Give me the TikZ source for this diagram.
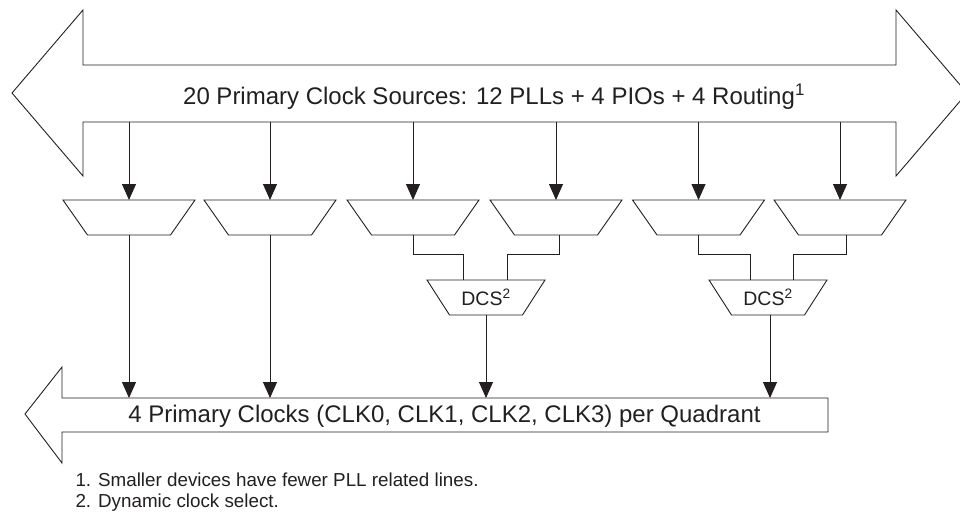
\documentclass[tikz,border=0pt]{standalone}
\usepackage{fontspec}
\setmainfont{Liberation Sans}
\usetikzlibrary{arrows.meta,calc}
\definecolor{ink}{HTML}{231F20}
\begin{document}
\begin{tikzpicture}[x=1pt,y=-1pt,
  line/.style={draw=ink,line width=0.9pt},
  arr/.style={line,-{Triangle[length=16pt,width=14pt]}},
  selbox/.style={rectangle,draw=none,inner sep=0pt,outer sep=0pt,
    minimum width=132pt,minimum height=35pt},
  dcsbox/.style={rectangle,draw=none,inner sep=0pt,outer sep=0pt,
    minimum width=118pt,minimum height=35pt,font=\fontsize{19.5}{22}\selectfont,text=ink},
  big/.style={font=\fontsize{24}{28}\selectfont,text=ink},
  note/.style={font=\fontsize{18.8}{22}\selectfont,text=ink,anchor=west}]
\useasboundingbox (0,0) rectangle (960,512);
\clip (0,0) rectangle (960,512);
% top double arrow
\draw[line,line join=miter] (12,93) -- (83,10) -- (83,65) -- (896,65) -- (896,10) -- (967,93)
  -- (896,176) -- (896,122) -- (83,122) -- (83,176) -- cycle;
\node[big] (srctext) at (494,97) {20 Primary Clock Sources: 12 PLLs + 4 PIOs + 4 Routing\textsuperscript{1}};
\coordinate (srcbot) at (0,122);
% bottom arrow
\draw[line,line join=miter] (25,414) -- (62,367) -- (62,398) -- (828,398) -- (828,432)
  -- (62,432) -- (62,463) -- cycle;
\node[big] (bustext) at (444.5,416) {4 Primary Clocks (CLK0, CLK1, CLK2, CLK3) per Quadrant};
\coordinate (bartop) at (0,398);
% selectors
\node[selbox] (t1) at (129,217.5) {};
\node[selbox] (t2) at (270,217.5) {};
\node[selbox] (t3) at (413,217.5) {};
\node[selbox] (t4) at (556,217.5) {};
\node[selbox] (t5) at (698.5,217.5) {};
\node[selbox] (t6) at (840,217.5) {};
\foreach \t in {t1,t2,t3,t4,t5,t6}
  \draw[line,line join=miter] (\t.north west) -- (\t.north east) -- ([xshift=-24.5pt]\t.south east)
    -- ([xshift=24.5pt]\t.south west) -- cycle;
% DCS
\node[dcsbox] (d1) at (486,297.5) {DCS\textsuperscript{2}};
\node[dcsbox] (d2) at (768,297.5) {DCS\textsuperscript{2}};
\foreach \d in {d1,d2}
  \draw[line,line join=miter] (\d.north west) -- (\d.north east) -- ([xshift=-22.5pt]\d.south east)
    -- ([xshift=22.5pt]\d.south west) -- cycle;
% source arrows
\foreach \t in {t1,t2,t3,t4,t5,t6}
  \draw[arr] (\t.north |- srcbot) -- (\t.north);
% direct outputs
\draw[arr] (t1.south) -- (t1.south |- bartop);
\draw[arr] (t2.south) -- (t2.south |- bartop);
% DCS inputs
\coordinate (d1a) at (463,280);
\coordinate (d1b) at (507,280);
\coordinate (d2a) at (750,280);
\coordinate (d2b) at (793,280);
\draw[line] (t3.south) -- ++(0,19) -| (d1a);
\draw[line] ([xshift=3pt]t4.south) -- ++(0,19) -| (d1b);
\draw[line] (t5.south) -- ++(0,19) -| (d2a);
\draw[line] ([xshift=6pt]t6.south) -- ++(0,19) -| (d2b);
% DCS outputs
\draw[arr] (d1.south) -- (d1.south |- bartop);
\draw[arr] ([xshift=2pt]d2.south) -- ([xshift=2pt]d2.south |- bartop);
% footnotes
\node[note] (fn1) at (72,480) {1. Smaller devices have fewer PLL related lines.};
\node[note] (fn2) at (72,503) {2. Dynamic clock select.};
\end{tikzpicture}
\end{document}
